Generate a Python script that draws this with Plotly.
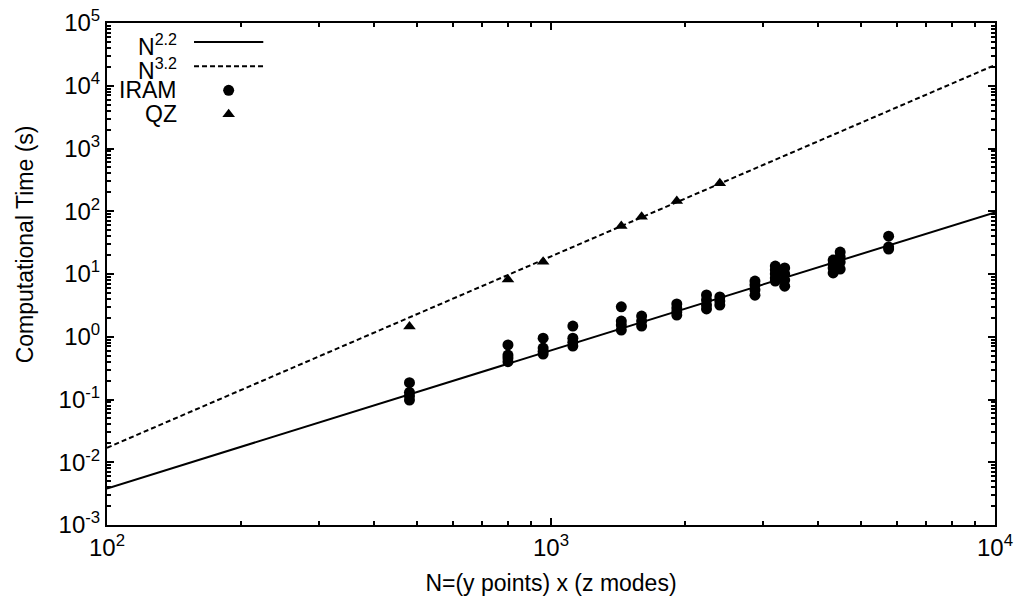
import numpy as np
import plotly.graph_objects as go

# ---- data ----
qz_n = [480, 800, 960, 1440, 1600, 1920, 2400]
qz_time = [1.45, 8.2, 15.7, 58, 82, 146, 279]

iram_n = ([480] * 4 + [800] * 4 + [960] * 4 + [1120] * 4 + [1440] * 4 + [1600] * 3
          + [1920] * 4 + [2240] * 4 + [2400] * 3 + [2880] * 4 + [3200] * 5
          + [3360] * 4 + [4320] * 4 + [4480] * 4 + [5760] * 3)
iram_time = [0.185, 0.13, 0.114, 0.098,
             0.74, 0.51, 0.46, 0.40,
             0.95, 0.66, 0.59, 0.53,
             1.48, 0.95, 0.82, 0.71,
             3.0, 1.78, 1.54, 1.28,
             2.14, 1.78, 1.48,
             3.33, 2.87, 2.48, 2.22,
             4.63, 3.85, 3.2, 2.77,
             4.3, 3.71, 3.2,
             7.7, 6.7, 5.6, 4.6,
             13.4, 11.6, 10.0, 8.6, 7.7,
             12.5, 10.0, 8.0, 6.4,
             16.7, 14.4, 12.5, 10.4,
             22.4, 18.7, 15.5, 12.0,
             40, 27, 25]

# power-law guide lines: time = value_at_1e4 * (N/1e4)**exponent
line_labels = ["N<sup>2.2</sup>", "N<sup>3.2</sup>"]
line_exponents = [2.2, 3.05]
line_value_at_1e4 = [96.0, 2.14e4]
line_dashes = ["solid", "5px,3px"]

x_decades = [2, 3, 4]
y_decades = [-3, -2, -1, 0, 1, 2, 3, 4, 5]
x_tick_text = ["10<sup>%d</sup>" % k for k in x_decades]
y_tick_text = ["10<sup>%d</sup>" % k for k in y_decades]

x_title = "N=(y points) x (z modes)"
y_title = "Computational Time (s)"

FONT = "Liberation Sans, Arial, sans-serif"
FS = 23
TICK_FS = 24

fig = go.Figure()

n_line = np.logspace(x_decades[0], x_decades[-1], 50)
for lab, p, v, d in zip(line_labels, line_exponents, line_value_at_1e4, line_dashes):
    fig.add_trace(go.Scatter(x=n_line, y=v * (n_line / 1e4) ** p, mode="lines",
                             line=dict(color="black", width=2, dash=d),
                             showlegend=False, hoverinfo="skip"))

fig.add_trace(go.Scatter(x=iram_n, y=iram_time, mode="markers",
                         marker=dict(symbol="circle", size=11, color="black"),
                         showlegend=False))
fig.add_trace(go.Scatter(x=qz_n, y=qz_time, mode="markers",
                         marker=dict(symbol="triangle-up", size=11, color="black"),
                         showlegend=False))

# ---- gnuplot-style legend (text right, key sample on the right) ----
leg_rows_y = [0.962, 0.914, 0.866, 0.818]
leg_text_x = 0.081
leg_sample_x = [0.098, 0.176]
leg_marker_x = 0.137
for i, (lab, d) in enumerate(zip(line_labels, line_dashes)):
    fig.add_trace(go.Scatter(x=leg_sample_x, y=[leg_rows_y[i]] * 2, mode="lines",
                             line=dict(color="black", width=2, dash=d),
                             xaxis="x2", yaxis="y2", showlegend=False, hoverinfo="skip"))
    fig.add_annotation(x=leg_text_x, y=leg_rows_y[i] - 0.006, xref="paper", yref="paper",
                       text=lab, showarrow=False, xanchor="right", yanchor="middle",
                       font=dict(family=FONT, size=FS, color="black"))
for i, (lab, sym) in enumerate(zip(["IRAM", "QZ"], ["circle", "triangle-up"])):
    fig.add_trace(go.Scatter(x=[leg_marker_x], y=[leg_rows_y[i + 2]], mode="markers",
                             marker=dict(symbol=sym, size=11, color="black"),
                             xaxis="x2", yaxis="y2", showlegend=False, hoverinfo="skip"))
    fig.add_annotation(x=leg_text_x, y=leg_rows_y[i + 2], xref="paper", yref="paper",
                       text=lab, showarrow=False, xanchor="right", yanchor="middle",
                       font=dict(family=FONT, size=FS, color="black"))

# y-axis title placed as rotated text left of the tick labels
fig.add_annotation(x=-0.093, y=0.56, xref="paper", yref="paper", text=y_title,
                   textangle=-90, showarrow=False, xanchor="center", yanchor="middle",
                   font=dict(family=FONT, size=FS, color="black"))

axis_common = dict(
    type="log", showgrid=False, zeroline=False, automargin=False,
    showline=True, linecolor="black", linewidth=2, mirror="allticks",
    ticks="inside", ticklen=7, tickwidth=1.5, tickcolor="black",
    tickmode="array",
    tickfont=dict(family=FONT, size=TICK_FS, color="black"),
    minor=dict(ticks="inside", ticklen=4, tickwidth=1.5, tickcolor="black",
               dtick="D1", showgrid=False),
)

fig.update_layout(
    width=1019, height=604,
    margin=dict(l=107, r=24, t=23, b=79),
    paper_bgcolor="white", plot_bgcolor="white",
    font=dict(family=FONT, size=FS, color="black"),
    xaxis=dict(range=[x_decades[0], x_decades[-1]],
               tickvals=[10.0 ** k for k in x_decades], ticktext=x_tick_text,
               title=dict(text=x_title, font=dict(family=FONT, size=FS, color="black")),
               **axis_common),
    yaxis=dict(range=[y_decades[0], y_decades[-1]],
               tickvals=[10.0 ** k for k in y_decades], ticktext=y_tick_text,
               **axis_common),
    xaxis2=dict(overlaying="x", range=[0, 1], visible=False, fixedrange=True),
    yaxis2=dict(overlaying="y", range=[0, 1], visible=False, fixedrange=True),
    showlegend=False,
)

fig.write_html("out.html")
